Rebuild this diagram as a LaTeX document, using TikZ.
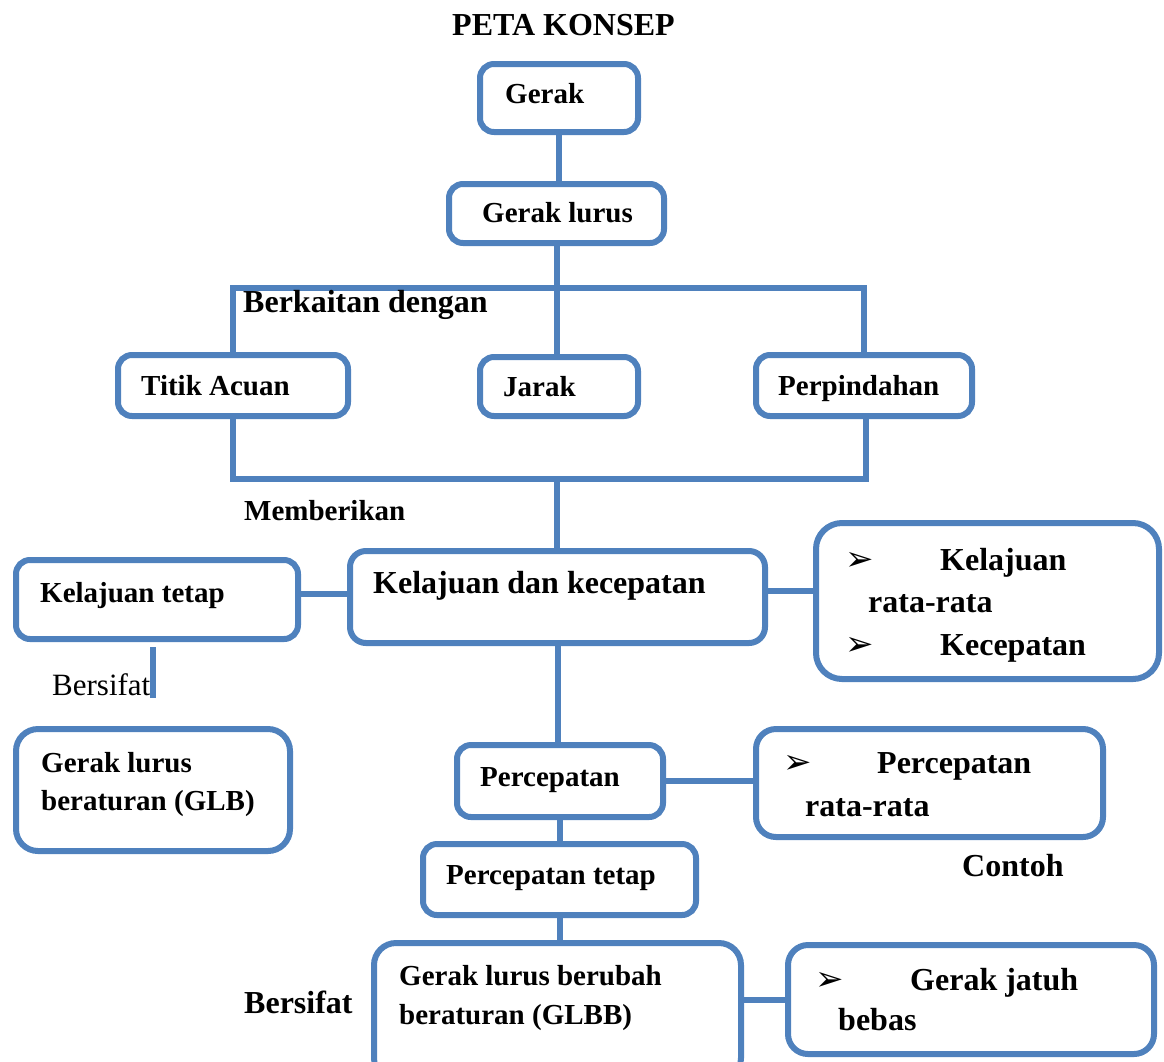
\documentclass[tikz,border=0pt]{standalone}
\usepackage{fontspec}
\setmainfont{Liberation Serif}
\newfontfamily\symfont{DejaVu Sans}
\definecolor{boxblue}{HTML}{4F81BD}
\begin{document}
\begin{tikzpicture}[x=1pt,y=-1pt,
  box/.style={draw=boxblue,line width=6pt,rounded corners=14pt,inner sep=0pt,rectangle},
  conn/.style={draw=boxblue,line width=6pt,line join=miter,line cap=butt},
  lbl/.style={anchor=base west,inner sep=0pt,font=\fontsize{29}{34}\selectfont\bfseries},
  lblb/.style={anchor=base west,inner sep=0pt,font=\fontsize{32}{37}\selectfont\bfseries},
  lblr/.style={anchor=base west,inner sep=0pt,font=\fontsize{31}{36}\selectfont},
  bul/.style={anchor=base west,inner sep=0pt,font=\symfont\fontsize{34}{38}\selectfont}]
\useasboundingbox (0,0) rectangle (1164,1061);
\clip (0,0) rectangle (1164,1061);

% boxes
\node[box,minimum width=158pt,minimum height=68pt] (gerak) at (559,98) {};
\node[box,minimum width=215pt,minimum height=59pt] (gl) at (556.5,213.5) {};
\node[box,minimum width=230pt,minimum height=61pt] (titik) at (233,385.5) {};
\node[box,minimum width=158pt,minimum height=59pt] (jarak) at (559,386.5) {};
\node[box,minimum width=216pt,minimum height=61pt] (perp) at (864,385.5) {};
\node[box,minimum width=415pt,minimum height=92pt,rounded corners=16pt] (kdk) at (557.5,597) {};
\node[box,minimum width=282pt,minimum height=79pt] (kt) at (157,599.5) {};
\node[box,minimum width=343pt,minimum height=156pt,rounded corners=26pt] (rb) at (987.5,601) {};
\node[box,minimum width=274pt,minimum height=122pt,rounded corners=22pt] (glb) at (153,790) {};
\node[box,minimum width=206pt,minimum height=72pt] (perc) at (560,781) {};
\node[box,minimum width=347pt,minimum height=108pt,rounded corners=20pt] (prr) at (929.5,783) {};
\node[box,minimum width=273pt,minimum height=71pt] (pt) at (559.5,879.5) {};
\node[box,minimum width=367pt,minimum height=137pt,rounded corners=22pt] (glbb) at (557.5,1011.5) {};
\node[box,minimum width=366pt,minimum height=109pt,rounded corners=20pt] (gj) at (971,999.5) {};

% connectors
\coordinate (bar1) at (557,288);
\coordinate (bar2) at (557,479);
\coordinate (bstop) at (153,647);
\coordinate (bsend) at (153,698);
\draw[conn] (gerak.south) -- (gerak.south |- gl.north);
\draw[conn] (gl.south) -- (gl.south |- bar1);
\draw[conn] (titik.north) -- (titik.north |- bar1) -- (perp.north |- bar1) -- (perp.north);
\draw[conn] (bar1) -- (bar1 |- jarak.north);
\draw[conn] (titik.south) -- (titik.south |- bar2) -- ([xshift=2pt]perp.south |- bar2) -- ([xshift=2pt]perp.south);
\draw[conn] (bar2) -- (bar2 |- kdk.north);
\draw[conn] ([yshift=6pt]kt.east) -- ([yshift=6pt]kt.east -| kdk.west);
\draw[conn] ([yshift=6pt]kdk.east) -- ([yshift=6pt]kdk.east -| rb.west);
\draw[conn] (bstop) -- (bsend);
\draw[conn] (kdk.south) -- (kdk.south |- perc.north);
\draw[conn] (perc.east) -- (perc.east -| prr.west);
\draw[conn] (perc.south) -- (perc.south |- pt.north);
\draw[conn] (pt.south) -- (pt.south |- glbb.north);
\draw[conn] (glbb.east |- gj.west) -- (gj.west);

% texts
\node[lblb] (title) at (452,35) {PETA KONSEP};
\node[lbl] (tgerak) at (505,103) {Gerak};
\node[lbl] (tgl) at (482,222) {Gerak lurus};
\node[lblb] (tberk) at (243,312) {Berkaitan dengan};
\node[lbl] (ttitik) at (141,395) {Titik Acuan};
\node[lbl] (tjarak) at (503,396) {Jarak};
\node[lbl] (tperp) at (778,395) {Perpindahan};
\node[lbl] (tmemb) at (244,520) {Memberikan};
\node[lblb] (tkdk) at (373,593) {Kelajuan dan kecepatan};
\node[lbl] (tkt) at (40,602) {Kelajuan tetap};
\node[bul] (b1) at (845,570) {➢};
\node[lblb] (trb1) at (940,570) {Kelajuan};
\node[lblb] (trb2) at (868,612) {rata-rata};
\node[bul] (b2) at (845,655) {➢};
\node[lblb] (trb3) at (940,655) {Kecepatan};
\node[lblr] (tbers1) at (52,695) {Bersifat};
\node[lbl] (tglb1) at (41,772) {Gerak lurus};
\node[lbl] (tglb2) at (41,810) {beraturan (GLB)};
\node[lbl] (tperc) at (480,786) {Percepatan};
\node[bul] (b3) at (783,773) {➢};
\node[lblb] (tprr1) at (877,773) {Percepatan};
\node[lblb] (tprr2) at (805,816) {rata-rata};
\node[lblb] (tcontoh) at (962,876) {Contoh};
\node[lbl] (tpt) at (446,884) {Percepatan tetap};
\node[lbl] (tglbb1) at (399,985) {Gerak lurus berubah};
\node[lbl] (tglbb2) at (399,1024) {beraturan (GLBB)};
\node[lblb] (tbers2) at (244,1013) {Bersifat};
\node[bul] (b4) at (815,990) {➢};
\node[lblb] (tgj1) at (910,990) {Gerak jatuh};
\node[lblb] (tgj2) at (838,1030) {bebas};
\end{tikzpicture}
\end{document}
